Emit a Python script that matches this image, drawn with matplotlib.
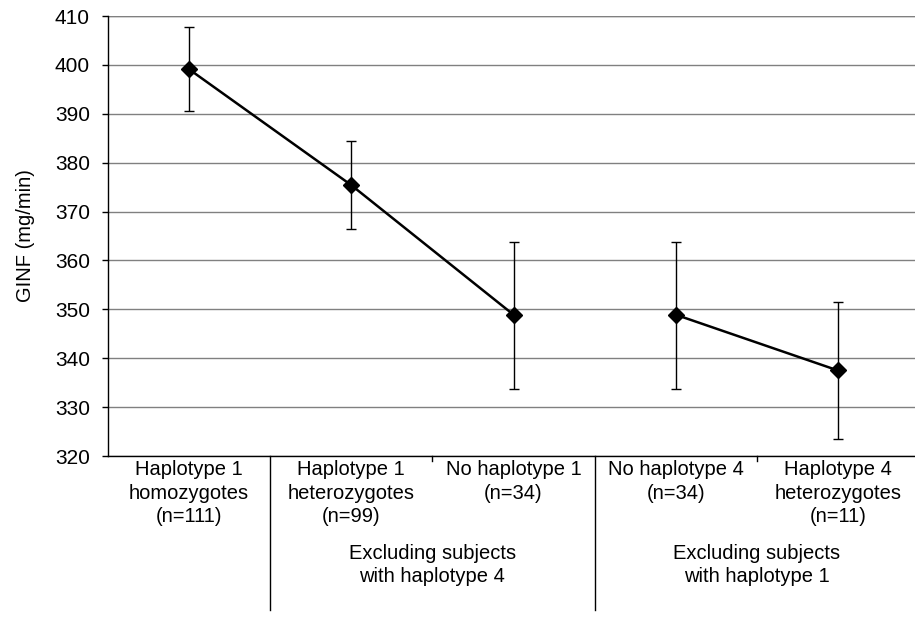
import matplotlib
matplotlib.use("Agg")
import matplotlib.pyplot as plt
import matplotlib.transforms as mtransforms

plt.rcParams['font.family'] = ['Liberation Sans', 'DejaVu Sans']

categories = ["Haplotype 1\nhomozygotes\n(n=111)",
              "Haplotype 1\nheterozygotes\n(n=99)",
              "No haplotype 1\n(n=34)",
              "No haplotype 4\n(n=34)",
              "Haplotype 4\nheterozygotes\n(n=11)"]
means = [399.1, 375.4, 348.9, 348.9, 337.5]
upper = [407.8, 384.4, 363.8, 363.8, 351.4]
lower = [390.6, 366.4, 333.8, 333.8, 323.4]
groups = ["Excluding subjects\nwith haplotype 4", "Excluding subjects\nwith haplotype 1"]
segments = [[0, 1, 2], [3, 4]]
yticks = [320, 330, 340, 350, 360, 370, 380, 390, 400, 410]

W, H = 915, 618
fig = plt.figure(figsize=(W/100, H/100), dpi=100)
left, right, top, bottom = 108, 919, 16, 456
ax = fig.add_axes([left/W, 1-bottom/H, (right-left)/W, (bottom-top)/H])

x = list(range(len(categories)))
for seg in segments:
    xs = [x[i] for i in seg]
    ys = [means[i] for i in seg]
    ax.plot(xs, ys, color='black', lw=1.8, zorder=3)
    err = [[means[i]-lower[i] for i in seg], [upper[i]-means[i] for i in seg]]
    ax.errorbar(xs, ys, yerr=err, fmt='D', color='black', ms=8.5,
                ecolor='black', elinewidth=1.0, capsize=3.8, capthick=1.0, zorder=4)

ax.set_xlim(-0.5, len(categories)-0.5)
ax.set_ylim(yticks[0], yticks[-1])
ax.set_yticks(yticks)
ax.tick_params(axis='y', labelsize=15, length=4, width=1, color='black', pad=9)
ax.yaxis.grid(True, color='#808080', lw=1.0)
ax.set_axisbelow(True)
for s in ['top', 'right']:
    ax.spines[s].set_visible(False)
ax.spines['left'].set_linewidth(1.0)
ax.spines['bottom'].set_linewidth(1.0)
ax.axhline(yticks[-1], color='#808080', lw=1.0, zorder=1)

ax.set_xticks(x)
ax.set_xticklabels(categories, fontsize=14.5, va='top', linespacing=1.3)
ax.tick_params(axis='x', length=0, pad=3)

ax.set_ylabel("GINF (mg/min)", fontsize=14.5, labelpad=14)

trans = mtransforms.blended_transform_factory(ax.transData, ax.transAxes)
for xv in [0.5, 2.5]:
    ax.plot([xv, xv], [0, -0.35], transform=trans, color='black', lw=1.0, clip_on=False)
for xv in [1.5, 3.5]:
    ax.plot([xv, xv], [0, -0.012], transform=trans, color='black', lw=1.0, clip_on=False)

for gx, g in zip([1.5, 3.5], groups):
    ax.text(gx, -0.2, g, transform=trans, ha='center', va='top', fontsize=14.5,
            linespacing=1.3)

fig.savefig("out.png", dpi=100)
